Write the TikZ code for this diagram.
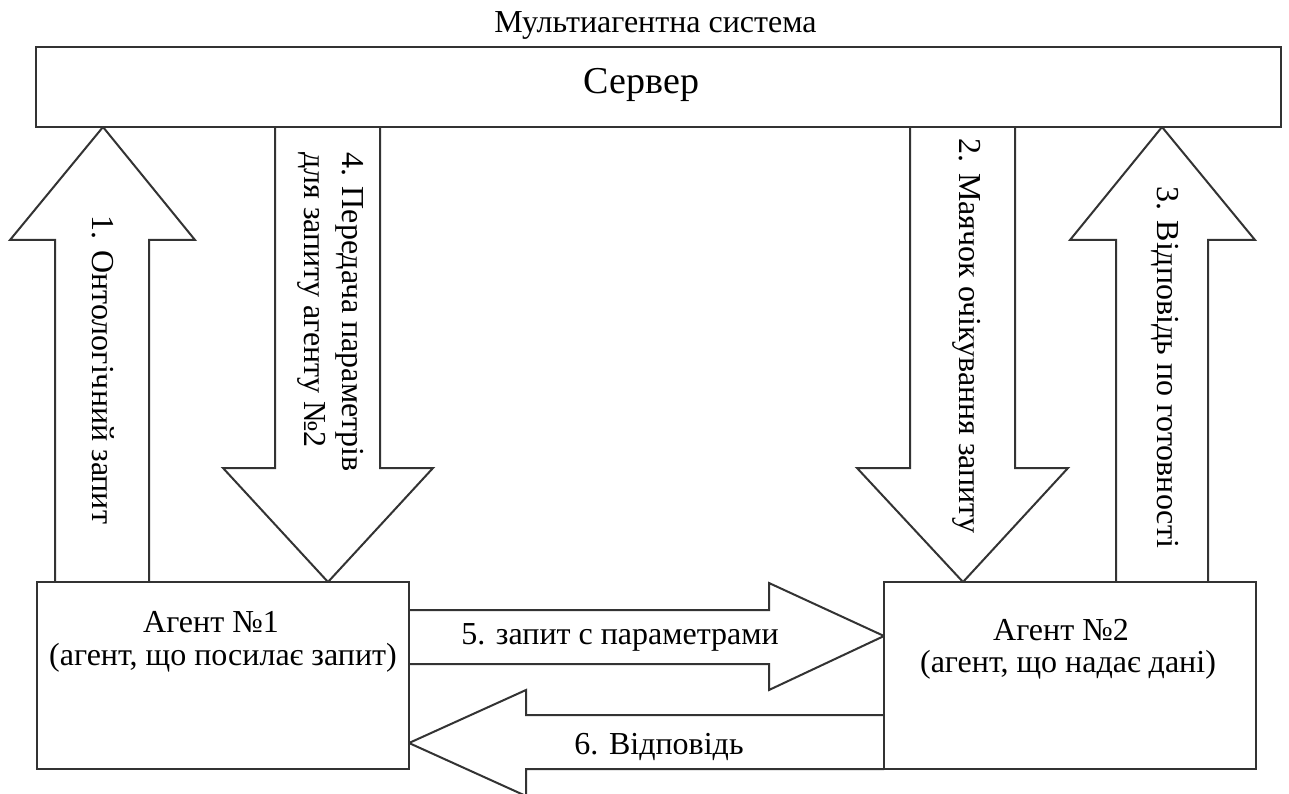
\documentclass[tikz,border=0pt]{standalone}
\usepackage{fontspec}
\setmainfont{Liberation Serif}
\begin{document}
\begin{tikzpicture}[x=1pt,y=-1pt,
  box/.style={draw=black!80, line width=2.2pt, fill=white, inner sep=0pt},
  blockarrow/.style={draw=black!80, line width=2pt, line join=miter, fill=white},
  lbl/.style={font=\fontsize{32}{38}\selectfont, inner sep=0pt},
  vlbl/.style={lbl, rotate=-90}]
\useasboundingbox (0,0) rectangle (1289,794);
\clip (0,0) rectangle (1289,794);

% block arrows between server and agents (drawn first, the frames sit on top)
\draw[blockarrow] (55,582) -- (55,240) -- (10,240) -- (103,127) -- (195,240) -- (149,240) -- (149,582);
\draw[blockarrow] (275,127) -- (275,468) -- (223,468) -- (328,582) -- (433,468) -- (380,468) -- (380,127);
\draw[blockarrow] (910,127) -- (910,468) -- (857,468) -- (963,582) -- (1068,468) -- (1015,468) -- (1015,127);
\draw[blockarrow] (1116,582) -- (1116,240) -- (1070,240) -- (1162,127) -- (1255,240) -- (1208,240) -- (1208,582);

% block arrows between the agents
\draw[blockarrow] (409,610) -- (769,610) -- (769,583) -- (884,636) -- (769,690) -- (769,664) -- (409,664);
\draw[blockarrow] (884,715) -- (526,715) -- (526,690) -- (409,743) -- (526,796) -- (526,769) -- (884,769);

% frames
\node[box, minimum width=1245pt, minimum height=80pt] (server) at (658.5,87) {};
\node[box, minimum width=372pt, minimum height=187pt] (agent1) at (223,675.5) {};
\node[box, minimum width=372pt, minimum height=187pt] (agent2) at (1070,675.5) {};

% texts
\node[lbl] (title) at (655.5,25) {Мультиагентна система};
\node[lbl, font=\fontsize{38}{44}\selectfont] (servername) at (641.5,85) {Сервер};
\node[lbl] (a1name) at (211,622) {Агент №1};
\node[lbl] (a1role) at (223,658) {(агент, що посилає запит)};
\node[lbl] (a2name) at (1061,630) {Агент №2};
\node[lbl] (a2role) at (1068,665) {(агент, що надає дані)};
\node[lbl] (m5) at (620,637) {5. запит с параметрами};
\node[lbl] (m6) at (659,747) {6. Відповідь};

\node[vlbl] (m1) at (103,370) {1. Онтологічний запит};
\node[vlbl] (m2) at (967,336) {2. Маячок очікування запиту};
\node[vlbl] (m3) at (1165,367) {3. Відповідь по готовності};
\node[vlbl, align=left, anchor=west] (m4) at (331,152) {4. Передача параметрів\\для запиту агенту №2};
\end{tikzpicture}
\end{document}
